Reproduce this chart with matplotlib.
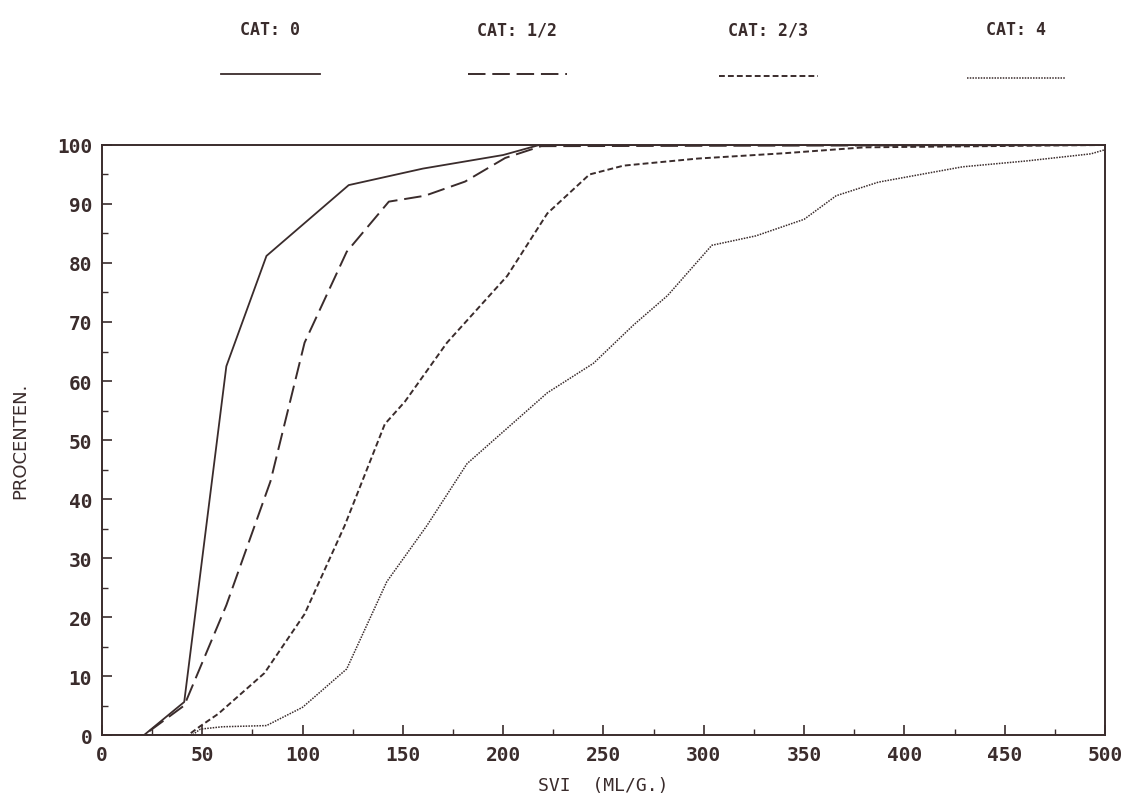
import numpy as np
import matplotlib.pyplot as plt
from matplotlib.ticker import MultipleLocator

# cumulative SVI distribution per category
cat0_x = [0, 21, 41, 62, 82, 123, 160, 200, 218, 500]
cat0_y = [0, 0, 5.6, 62.5, 81.2, 93.2, 96.0, 98.3, 100, 100]

cat12_x = [0, 21, 41, 62, 84, 101, 122, 143, 161, 181, 201, 219, 500]
cat12_y = [0, 0, 5.0, 22, 43, 66.5, 81.9, 90.4, 91.4, 93.8, 97.8, 99.8, 100]

cat23_x = [0, 43, 49, 58, 81, 101, 121, 141, 151, 172, 202, 222, 243, 260, 297, 340, 380, 500]
cat23_y = [0, 0, 1.5, 3.6, 10.5, 20.5, 35.5, 52.7, 56.5, 66.5, 77.8, 88.4, 95.0, 96.5, 97.7, 98.6, 99.6, 100]

cat4_x = [0, 45, 49, 60, 82, 100, 122, 142, 162, 182, 212, 222, 245, 265, 282, 304, 326, 350, 366, 387, 429, 461, 493, 500]
cat4_y = [0, 0, 1.0, 1.4, 1.6, 4.7, 11.2, 26, 35.5, 46, 55, 58, 63, 69.5, 74.5, 83, 84.6, 87.4, 91.4, 93.7, 96.3, 97.3, 98.5, 99.2]

labels = ['CAT: 0', 'CAT: 1/2', 'CAT: 2/3', 'CAT: 4']
ink = '#3a2c2c'
styles = ['-', (0, (9, 3.5)), (0, (3, 1.6)), (0, (1, 0.8))]
widths = [1.3, 1.4, 1.4, 1.1]

plt.rcParams['font.family'] = ['DejaVu Sans Mono', 'DejaVu Sans']

fig = plt.figure(figsize=(11.38, 8.03), dpi=100)
ax = fig.add_axes([0.0896, 0.0834, 0.8814, 0.7348])

series = [(cat0_x, cat0_y), (cat12_x, cat12_y), (cat23_x, cat23_y), (cat4_x, cat4_y)]
for (xs, ys), ls, lw in zip(series, styles, widths):
    ax.plot(xs, ys, color=ink, linestyle=ls, linewidth=lw)

ax.set_xlim(0, 500)
ax.set_ylim(0, 100)
ax.xaxis.set_major_locator(MultipleLocator(50))
ax.xaxis.set_minor_locator(MultipleLocator(25))
ax.yaxis.set_major_locator(MultipleLocator(10))
ax.yaxis.set_minor_locator(MultipleLocator(5))
ax.tick_params(which='major', direction='in', length=7, width=1.2, color=ink,
               labelsize=14, labelcolor=ink, pad=7)
ax.tick_params(which='minor', direction='in', length=4, width=1.0, color=ink)
for lab in ax.get_xticklabels() + ax.get_yticklabels():
    lab.set_fontweight('bold')
for s in ax.spines.values():
    s.set_color(ink)
    s.set_linewidth(1.4)

ax.set_xlabel('SVI  (ML/G.)', fontsize=13, color=ink, labelpad=9)
ax.set_ylabel('PROCENTEN.', fontsize=13, color=ink, labelpad=20,
              family='DejaVu Sans')

# legend drawn as a row of captions with line samples beneath
leg = fig.add_axes([0, 0.88, 1, 0.12])
leg.set_xlim(0, 1138)
leg.set_ylim(96, 0)
leg.axis('off')
centers = [270, 517, 768, 1016]
sample_y = [75, 75, 77, 79]
for c, lab, ls, lw, sy in zip(centers, labels, styles, widths, sample_y):
    leg.text(c, 30, lab, ha='center', va='center', fontsize=12, color=ink,
             fontweight='bold')
    leg.plot([c - 49, c + 50], [sy, sy], color=ink, linestyle=ls, linewidth=lw)

fig.savefig('out.png', dpi=100, facecolor='white')
